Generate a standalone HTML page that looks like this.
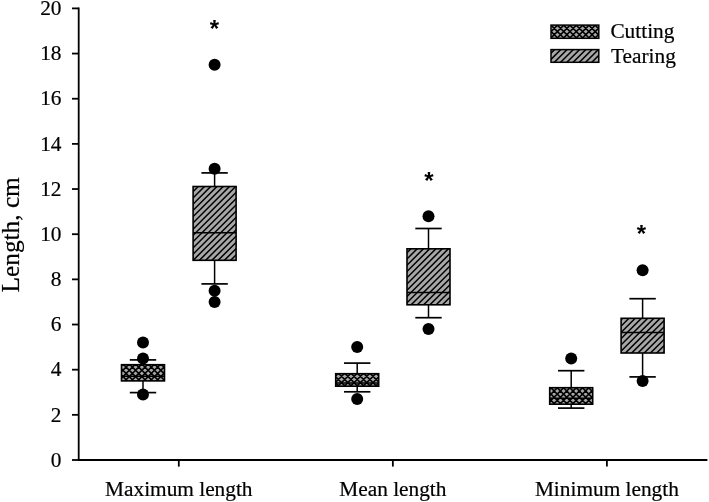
<!DOCTYPE html>
<html><head><meta charset="utf-8"><title>Box plot</title>
<style>
html,body{margin:0;padding:0;background:#fff;}
svg{display:block;}
text{font-family:"Liberation Serif",serif;fill:#000;stroke:#000;stroke-width:0.2px;}
.t{font-size:21.33px;}
.star{stroke:none;font-family:"Liberation Sans",sans-serif;font-weight:bold;font-size:24px;}
</style></head><body>
<svg width="709" height="502" viewBox="0 0 709 502">
<defs><clipPath id="b143"><rect x="121.50" y="364.70" width="43.00" height="16.20"/></clipPath><clipPath id="b214"><rect x="193.10" y="186.50" width="43.00" height="73.80"/></clipPath><clipPath id="b357"><rect x="335.70" y="373.70" width="43.00" height="12.50"/></clipPath><clipPath id="b428"><rect x="407.00" y="248.80" width="43.00" height="56.00"/></clipPath><clipPath id="b571"><rect x="549.70" y="387.70" width="43.00" height="16.50"/></clipPath><clipPath id="b642"><rect x="621.10" y="318.30" width="43.00" height="34.70"/></clipPath><clipPath id="lc"><rect x="551.00" y="25.10" width="47.80" height="13.20"/></clipPath><clipPath id="lt"><rect x="551.00" y="49.60" width="47.80" height="12.70"/></clipPath></defs>
<rect width="709" height="502" fill="#fff"/>

<g stroke="#000" stroke-width="1.8" fill="none">
<line x1="78.7" y1="7.50" x2="78.7" y2="460.9"/>
<line x1="78.7" y1="460.0" x2="707.4" y2="460.0"/>
<line x1="72" y1="460.00" x2="78.7" y2="460.00"/>
<line x1="72" y1="414.84" x2="78.7" y2="414.84"/>
<line x1="72" y1="369.68" x2="78.7" y2="369.68"/>
<line x1="72" y1="324.52" x2="78.7" y2="324.52"/>
<line x1="72" y1="279.36" x2="78.7" y2="279.36"/>
<line x1="72" y1="234.20" x2="78.7" y2="234.20"/>
<line x1="72" y1="189.04" x2="78.7" y2="189.04"/>
<line x1="72" y1="143.88" x2="78.7" y2="143.88"/>
<line x1="72" y1="98.72" x2="78.7" y2="98.72"/>
<line x1="72" y1="53.56" x2="78.7" y2="53.56"/>
<line x1="72" y1="8.40" x2="78.7" y2="8.40"/>
<line x1="178.8" y1="460.0" x2="178.8" y2="466.6"/>
<line x1="392.85" y1="460.0" x2="392.85" y2="466.6"/>
<line x1="606.9" y1="460.0" x2="606.9" y2="466.6"/>
</g>
<text class="t" x="61.5" y="466.70" text-anchor="end">0</text>
<text class="t" x="61.5" y="421.54" text-anchor="end">2</text>
<text class="t" x="61.5" y="376.38" text-anchor="end">4</text>
<text class="t" x="61.5" y="331.22" text-anchor="end">6</text>
<text class="t" x="61.5" y="286.06" text-anchor="end">8</text>
<text class="t" x="61.5" y="240.90" text-anchor="end">10</text>
<text class="t" x="61.5" y="195.74" text-anchor="end">12</text>
<text class="t" x="61.5" y="150.58" text-anchor="end">14</text>
<text class="t" x="61.5" y="105.42" text-anchor="end">16</text>
<text class="t" x="61.5" y="60.26" text-anchor="end">18</text>
<text class="t" x="61.5" y="15.10" text-anchor="end">20</text>
<text class="t" x="178.8" y="496" text-anchor="middle">Maximum length</text>
<text class="t" x="392.85" y="496" text-anchor="middle">Mean length</text>
<text class="t" x="606.9" y="496" text-anchor="middle">Minimum length</text>
<text x="0" y="0" font-size="25.3" text-anchor="middle" transform="translate(18.9 234.8) rotate(-90)">Length, cm</text>
<rect x="121.50" y="364.70" width="43.00" height="16.20" fill="#a7a7a7"/><path d="M119.50 367.44L166.50 320.44M119.50 373.74L166.50 326.74M119.50 380.04L166.50 333.04M119.50 386.34L166.50 339.34M119.50 392.64L166.50 345.64M119.50 398.94L166.50 351.94M119.50 405.24L166.50 358.24M119.50 411.54L166.50 364.54M119.50 417.84L166.50 370.84M119.50 424.14L166.50 377.14M119.50 379.40L166.50 426.40M119.50 373.10L166.50 420.10M119.50 366.80L166.50 413.80M119.50 360.50L166.50 407.50M119.50 354.20L166.50 401.20M119.50 347.90L166.50 394.90M119.50 341.60L166.50 388.60M119.50 335.30L166.50 382.30M119.50 329.00L166.50 376.00M119.50 322.70L166.50 369.70" stroke="#000" stroke-width="1.6" fill="none" clip-path="url(#b143)"/>
<g stroke="#000" stroke-width="1.5">
<line x1="143.0" y1="359.9" x2="143.0" y2="364.7"/>
<line x1="143.0" y1="380.9" x2="143.0" y2="392.6"/>
<line x1="129.8" y1="359.9" x2="156.2" y2="359.9" stroke-width="1.7"/>
<line x1="129.8" y1="392.6" x2="156.2" y2="392.6" stroke-width="1.7"/>
<rect x="121.50" y="364.7" width="43.0" height="16.20" fill="none" stroke-width="1.6"/>
<line x1="121.50" y1="376.2" x2="164.50" y2="376.2"/>
</g>
<circle cx="143.0" cy="342.58" r="6.0" fill="#000"/>
<circle cx="143.0" cy="358.39" r="6.0" fill="#000"/>
<circle cx="143.0" cy="394.52" r="6.0" fill="#000"/>
<rect x="193.10" y="186.50" width="43.00" height="73.80" fill="#a7a7a7"/><path d="M191.10 187.35L238.10 140.35M191.10 193.60L238.10 146.60M191.10 199.85L238.10 152.85M191.10 206.10L238.10 159.10M191.10 212.35L238.10 165.35M191.10 218.60L238.10 171.60M191.10 224.85L238.10 177.85M191.10 231.10L238.10 184.10M191.10 237.35L238.10 190.35M191.10 243.60L238.10 196.60M191.10 249.85L238.10 202.85M191.10 256.10L238.10 209.10M191.10 262.35L238.10 215.35M191.10 268.60L238.10 221.60M191.10 274.85L238.10 227.85M191.10 281.10L238.10 234.10M191.10 287.35L238.10 240.35M191.10 293.60L238.10 246.60M191.10 299.85L238.10 252.85M191.10 306.10L238.10 259.10" stroke="#000" stroke-width="1.5" fill="none" clip-path="url(#b214)"/>
<g stroke="#000" stroke-width="1.5">
<line x1="214.6" y1="172.9" x2="214.6" y2="186.5"/>
<line x1="214.6" y1="260.3" x2="214.6" y2="283.9"/>
<line x1="201.4" y1="172.9" x2="227.79999999999998" y2="172.9" stroke-width="1.7"/>
<line x1="201.4" y1="283.9" x2="227.79999999999998" y2="283.9" stroke-width="1.7"/>
<rect x="193.10" y="186.5" width="43.0" height="73.80" fill="none" stroke-width="1.6"/>
<line x1="193.10" y1="232.8" x2="236.10" y2="232.8"/>
</g>
<circle cx="214.6" cy="64.85" r="6.0" fill="#000"/>
<circle cx="214.6" cy="168.72" r="6.0" fill="#000"/>
<circle cx="214.6" cy="290.65" r="6.0" fill="#000"/>
<circle cx="214.6" cy="301.94" r="6.0" fill="#000"/>
<rect x="335.70" y="373.70" width="43.00" height="12.50" fill="#a7a7a7"/><path d="M333.70 377.85L380.70 330.85M333.70 384.15L380.70 337.15M333.70 390.45L380.70 343.45M333.70 396.75L380.70 349.75M333.70 403.05L380.70 356.05M333.70 409.35L380.70 362.35M333.70 415.65L380.70 368.65M333.70 421.95L380.70 374.95M333.70 428.25L380.70 381.25M333.70 381.15L380.70 428.15M333.70 374.85L380.70 421.85M333.70 368.55L380.70 415.55M333.70 362.25L380.70 409.25M333.70 355.95L380.70 402.95M333.70 349.65L380.70 396.65M333.70 343.35L380.70 390.35M333.70 337.05L380.70 384.05M333.70 330.75L380.70 377.75" stroke="#000" stroke-width="1.6" fill="none" clip-path="url(#b357)"/>
<g stroke="#000" stroke-width="1.5">
<line x1="357.2" y1="363.1" x2="357.2" y2="373.7"/>
<line x1="357.2" y1="386.2" x2="357.2" y2="391.8"/>
<line x1="344.0" y1="363.1" x2="370.4" y2="363.1" stroke-width="1.7"/>
<line x1="344.0" y1="391.8" x2="370.4" y2="391.8" stroke-width="1.7"/>
<rect x="335.70" y="373.7" width="43.0" height="12.50" fill="none" stroke-width="1.6"/>
<line x1="335.70" y1="383.0" x2="378.70" y2="383.0"/>
</g>
<circle cx="357.2" cy="347.10" r="6.0" fill="#000"/>
<circle cx="357.2" cy="399.03" r="6.0" fill="#000"/>
<rect x="407.00" y="248.80" width="43.00" height="56.00" fill="#a7a7a7"/><path d="M405.00 248.45L452.00 201.45M405.00 254.70L452.00 207.70M405.00 260.95L452.00 213.95M405.00 267.20L452.00 220.20M405.00 273.45L452.00 226.45M405.00 279.70L452.00 232.70M405.00 285.95L452.00 238.95M405.00 292.20L452.00 245.20M405.00 298.45L452.00 251.45M405.00 304.70L452.00 257.70M405.00 310.95L452.00 263.95M405.00 317.20L452.00 270.20M405.00 323.45L452.00 276.45M405.00 329.70L452.00 282.70M405.00 335.95L452.00 288.95M405.00 342.20L452.00 295.20M405.00 348.45L452.00 301.45" stroke="#000" stroke-width="1.5" fill="none" clip-path="url(#b428)"/>
<g stroke="#000" stroke-width="1.5">
<line x1="428.5" y1="228.5" x2="428.5" y2="248.8"/>
<line x1="428.5" y1="304.8" x2="428.5" y2="317.7"/>
<line x1="415.3" y1="228.5" x2="441.7" y2="228.5" stroke-width="1.7"/>
<line x1="415.3" y1="317.7" x2="441.7" y2="317.7" stroke-width="1.7"/>
<rect x="407.00" y="248.8" width="43.0" height="56.00" fill="none" stroke-width="1.6"/>
<line x1="407.00" y1="292.6" x2="450.00" y2="292.6"/>
</g>
<circle cx="428.5" cy="216.14" r="6.0" fill="#000"/>
<circle cx="428.5" cy="329.04" r="6.0" fill="#000"/>
<rect x="549.70" y="387.70" width="43.00" height="16.50" fill="#a7a7a7"/><path d="M547.70 391.08L594.70 344.08M547.70 397.38L594.70 350.38M547.70 403.68L594.70 356.68M547.70 409.98L594.70 362.98M547.70 416.28L594.70 369.28M547.70 422.58L594.70 375.58M547.70 428.88L594.70 381.88M547.70 435.18L594.70 388.18M547.70 441.48L594.70 394.48M547.70 447.78L594.70 400.78M547.70 403.46L594.70 450.46M547.70 397.16L594.70 444.16M547.70 390.86L594.70 437.86M547.70 384.56L594.70 431.56M547.70 378.26L594.70 425.26M547.70 371.96L594.70 418.96M547.70 365.66L594.70 412.66M547.70 359.36L594.70 406.36M547.70 353.06L594.70 400.06M547.70 346.76L594.70 393.76M547.70 340.46L594.70 387.46" stroke="#000" stroke-width="1.6" fill="none" clip-path="url(#b571)"/>
<g stroke="#000" stroke-width="1.5">
<line x1="571.2" y1="370.7" x2="571.2" y2="387.7"/>
<line x1="571.2" y1="404.2" x2="571.2" y2="408.1"/>
<line x1="558.0" y1="370.7" x2="584.4000000000001" y2="370.7" stroke-width="1.7"/>
<line x1="558.0" y1="408.1" x2="584.4000000000001" y2="408.1" stroke-width="1.7"/>
<rect x="549.70" y="387.7" width="43.0" height="16.50" fill="none" stroke-width="1.6"/>
<line x1="549.70" y1="398.3" x2="592.70" y2="398.3"/>
</g>
<circle cx="571.2" cy="358.39" r="6.0" fill="#000"/>
<rect x="621.10" y="318.30" width="43.00" height="34.70" fill="#a7a7a7"/><path d="M619.10 321.85L666.10 274.85M619.10 328.10L666.10 281.10M619.10 334.35L666.10 287.35M619.10 340.60L666.10 293.60M619.10 346.85L666.10 299.85M619.10 353.10L666.10 306.10M619.10 359.35L666.10 312.35M619.10 365.60L666.10 318.60M619.10 371.85L666.10 324.85M619.10 378.10L666.10 331.10M619.10 384.35L666.10 337.35M619.10 390.60L666.10 343.60M619.10 396.85L666.10 349.85" stroke="#000" stroke-width="1.5" fill="none" clip-path="url(#b642)"/>
<g stroke="#000" stroke-width="1.5">
<line x1="642.6" y1="298.7" x2="642.6" y2="318.3"/>
<line x1="642.6" y1="353.0" x2="642.6" y2="376.9"/>
<line x1="629.4" y1="298.7" x2="655.8000000000001" y2="298.7" stroke-width="1.7"/>
<line x1="629.4" y1="376.9" x2="655.8000000000001" y2="376.9" stroke-width="1.7"/>
<rect x="621.10" y="318.3" width="43.0" height="34.70" fill="none" stroke-width="1.6"/>
<line x1="621.10" y1="332.6" x2="664.10" y2="332.6"/>
</g>
<circle cx="642.6" cy="270.33" r="6.0" fill="#000"/>
<circle cx="642.6" cy="380.97" r="6.0" fill="#000"/>
<text class="star" x="214.4" y="36.8" text-anchor="middle">*</text>
<text class="star" x="428.8" y="188.7" text-anchor="middle">*</text>
<text class="star" x="641.5" y="242.0" text-anchor="middle">*</text>
<rect x="551.00" y="25.10" width="47.80" height="13.20" fill="#a7a7a7"/><path d="M549.00 27.35L600.80 -24.45M549.00 33.65L600.80 -18.15M549.00 39.95L600.80 -11.85M549.00 46.25L600.80 -5.55M549.00 52.55L600.80 0.75M549.00 58.85L600.80 7.05M549.00 65.15L600.80 13.35M549.00 71.45L600.80 19.65M549.00 77.75L600.80 25.95M549.00 84.05L600.80 32.25M549.00 90.35L600.80 38.55M549.00 35.75L600.80 87.55M549.00 29.45L600.80 81.25M549.00 23.15L600.80 74.95M549.00 16.85L600.80 68.65M549.00 10.55L600.80 62.35M549.00 4.25L600.80 56.05M549.00 -2.05L600.80 49.75M549.00 -8.35L600.80 43.45M549.00 -14.65L600.80 37.15M549.00 -20.95L600.80 30.85M549.00 -27.25L600.80 24.55" stroke="#000" stroke-width="1.6" fill="none" clip-path="url(#lc)"/>
<rect x="551.00" y="49.60" width="47.80" height="12.70" fill="#a7a7a7"/><path d="M549.00 48.90L600.80 -2.90M549.00 55.15L600.80 3.35M549.00 61.40L600.80 9.60M549.00 67.65L600.80 15.85M549.00 73.90L600.80 22.10M549.00 80.15L600.80 28.35M549.00 86.40L600.80 34.60M549.00 92.65L600.80 40.85M549.00 98.90L600.80 47.10M549.00 105.15L600.80 53.35M549.00 111.40L600.80 59.60" stroke="#000" stroke-width="1.5" fill="none" clip-path="url(#lt)"/>
<g stroke="#000" stroke-width="1.5">
<rect x="551" y="25.1" width="47.8" height="13.2" fill="none"/>
<rect x="551" y="49.6" width="47.8" height="12.7" fill="none"/>
</g>
<text class="t" x="610.4" y="38.2">Cutting</text>
<text class="t" x="611" y="62.5">Tearing</text>
</svg></body></html>
